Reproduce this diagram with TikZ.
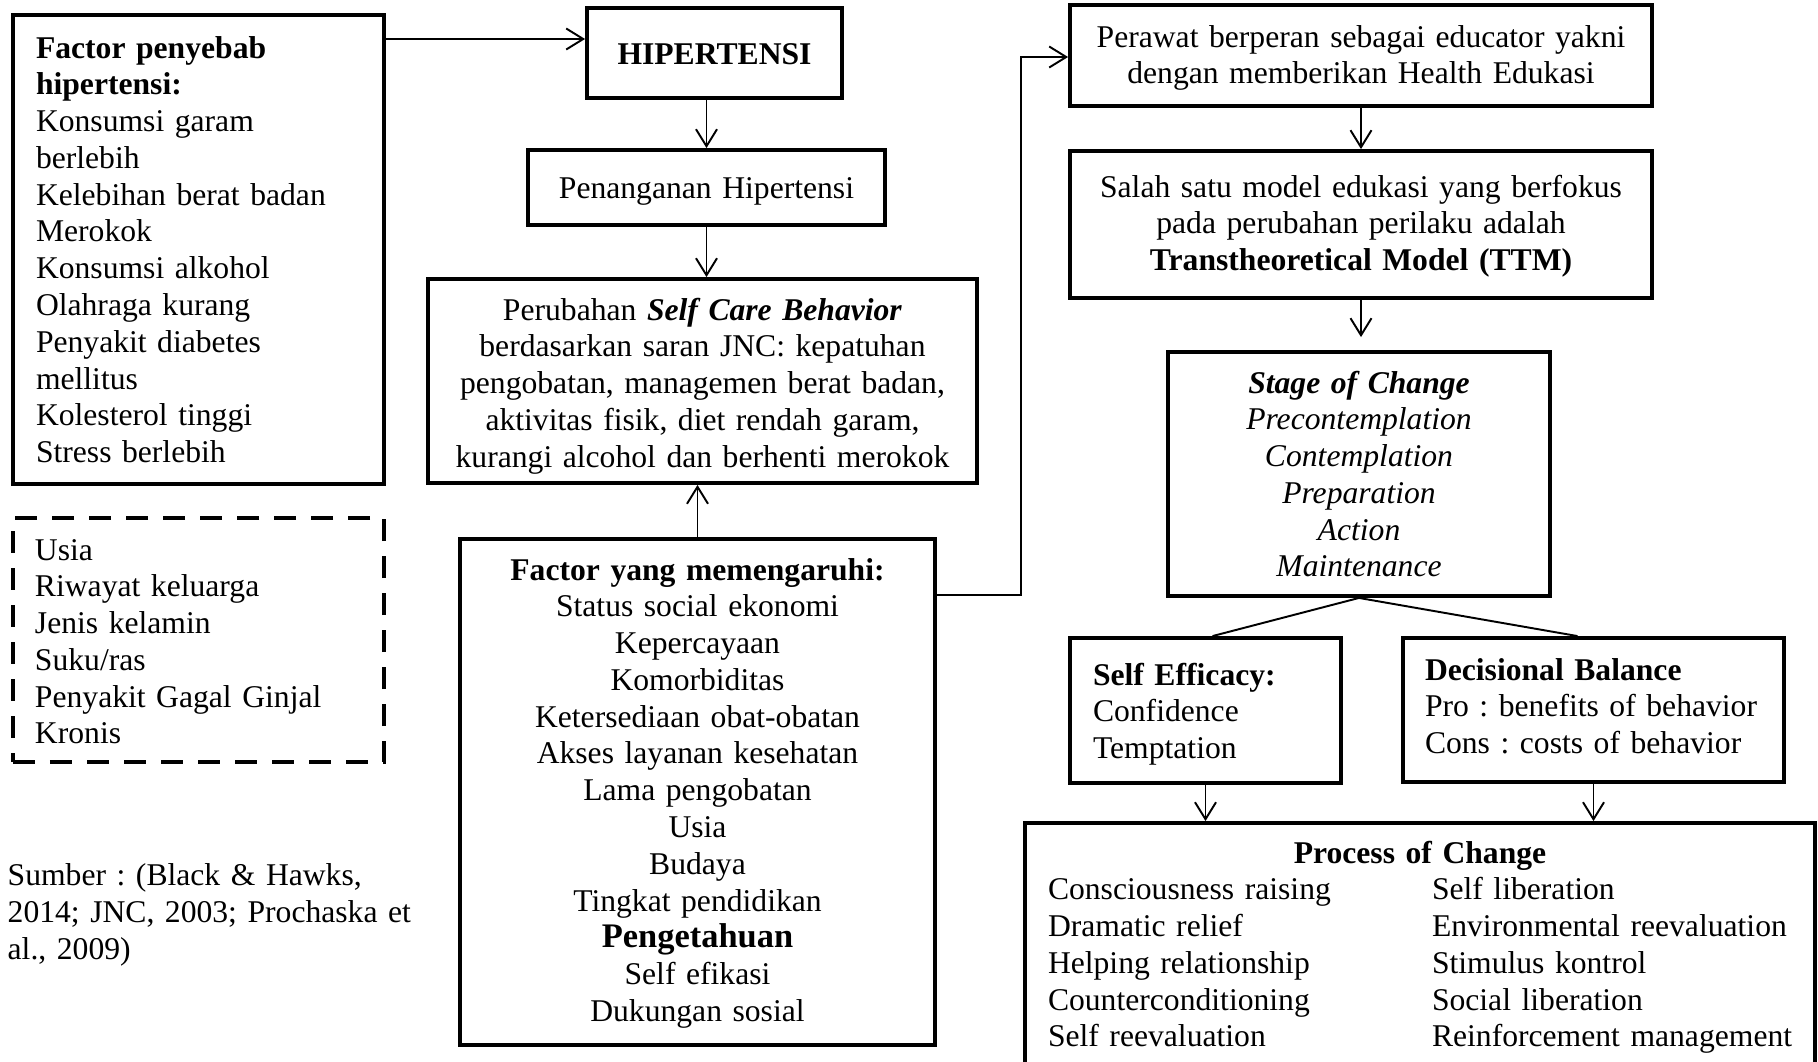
\documentclass[tikz,border=0pt]{standalone}
\usepackage{fontspec}
\setmainfont{Liberation Serif}
\usetikzlibrary{arrows.meta}
\newcommand{\diagfont}{\fontsize{9}{10.47}\selectfont\frenchspacing}

\begin{document}
\begin{tikzpicture}[x=1cm, y=-1cm,
  box/.style={draw, line width=1.1pt, inner ysep=0pt, inner xsep=0.2cm, align=center, font=\diagfont},
  leftbox/.style={box, align=left},
  arr/.style={line width=0.55pt, -{Straight Barb[length=1.7mm, width=2.1mm, line width=0.55pt]}},
  link/.style={line width=0.55pt}]
  \useasboundingbox (0,0) rectangle (18.18,10.62);
  % causes of hypertension (left top)
  \node[leftbox, inner xsep=0.23cm, text width=3.25cm, text height=0.43cm, text depth=4.26cm] (causes) at (1.985,2.495)
    {\textbf{Factor penyebab}\\\textbf{hipertensi:}\\Konsumsi garam\\berlebih\\Kelebihan berat badan\\Merokok\\Konsumsi alkohol\\Olahraga kurang\\Penyakit diabetes\\mellitus\\Kolesterol tinggi\\Stress berlebih};
  % fixed risk factors (dashed)
  \node[leftbox, dash pattern={on 2.2mm off 1.5mm}, inner xsep=0.22cm, text width=3.27cm, text height=0.42cm, text depth=2.02cm] (risk) at (1.985,6.40)
    {Usia\\Riwayat keluarga\\Jenis kelamin\\Suku/ras\\Penyakit Gagal Ginjal\\Kronis};
  % source note
  \node[anchor=north west, inner sep=0pt, align=left, text width=4.6cm, text height=0.30cm, font=\diagfont] (source) at (0.07,8.55)
    {Sumber : (Black \& Hawks,\\2014; JNC, 2003; Prochaska et\\al., 2009)};
  % middle column
  \node[box, text width=2.15cm, text height=0.56cm, text depth=0.34cm] (hiper) at (7.145,0.53) {\textbf{HIPERTENSI}};
  \node[box, text width=3.17cm, text height=0.48cm, text depth=0.27cm] (handle) at (7.065,1.875) {Penanganan Hipertensi};
  \node[box, text width=5.09cm, text height=0.41cm, text depth=1.63cm] (scb) at (7.025,3.81)
    {Perubahan \textbf{\textit{Self Care Behavior}}\\berdasarkan saran JNC: kepatuhan\\pengobatan, managemen berat badan,\\aktivitas fisik, diet rendah garam,\\kurangi alcohol dan berhenti merokok};
  \node[box, text width=4.35cm, text height=0.41cm, text depth=4.65cm] (factors) at (6.975,7.92)
    {\textbf{Factor yang memengaruhi:}\\Status social ekonomi\\Kepercayaan\\Komorbiditas\\Ketersediaan obat-obatan\\Akses layanan kesehatan\\Lama pengobatan\\Usia\\Budaya\\Tingkat pendidikan\\{\fontsize{9.8}{10.47}\selectfont\bfseries Pengetahuan}\\Self efikasi\\Dukungan sosial};
  % right column
  \node[box, text width=5.42cm, text height=0.42cm, text depth=0.59cm] (nurse) at (13.61,0.555)
    {Perawat berperan sebagai educator yakni\\dengan memberikan Health Edukasi};
  \node[box, text width=5.42cm, text height=0.46cm, text depth=1.01cm] (model) at (13.61,2.245)
    {Salah satu model edukasi yang berfokus\\pada perubahan perilaku adalah\\\textbf{Transtheoretical Model (TTM)}};
  \node[box, text width=3.42cm, text height=0.41cm, text depth=2.03cm] (stage) at (13.59,4.74)
    {\itshape\textbf{Stage of Change}\\Precontemplation\\Contemplation\\Preparation\\Action\\Maintenance};
  \node[leftbox, inner xsep=0.23cm, text width=2.25cm, text height=0.47cm, text depth=0.98cm] (effic) at (12.055,7.105)
    {\textbf{Self Efficacy:}\\Confidence\\Temptation};
  \node[leftbox, inner xsep=0.22cm, text width=3.37cm, text height=0.42cm, text depth=1.02cm] (decis) at (15.935,7.10)
    {\textbf{Decisional Balance}\\Pro : benefits of behavior\\Cons : costs of behavior};
  \node[box, inner xsep=0.23cm, text width=7.44cm, text height=0.40cm, text depth=2.12cm] (process) at (14.20,9.49)
    {\textbf{Process of Change}\\
     \begin{tabular}[t]{@{}p{3.84cm}@{}l@{}}
       Consciousness raising & Self liberation\\
       Dramatic relief & Environmental reevaluation\\
       Helping relationship & Stimulus kontrol\\
       Counterconditioning & Social liberation\\
       Self reevaluation & Reinforcement management
     \end{tabular}};
  % connectors
  \draw[arr] (causes.east |- 0,0.39) -- (hiper.west |- 0,0.39);
  \draw[arr] (hiper.south -| handle.north) -- (handle.north);
  \draw[arr] (handle.south) -- (handle.south |- scb.north);
  \draw[arr] (factors.north) -- (factors.north |- scb.south);
  \draw[arr] (factors.east |- 0,5.95) -- ++(0.84,0) |- (nurse.west |- 0,0.57);
  \draw[arr] (nurse) -- (model);
  \draw[arr, shorten >=0.13cm] (model.south) -- (model.south |- stage.north);
  \draw[link] (stage.south) -- ([xshift=0.07cm]effic.north);
  \draw[link] (stage.south) -- ([xshift=-0.16cm]decis.north);
  \draw[arr] (effic.south) -- (effic.south |- process.north);
  \draw[arr] (decis.south) -- (decis.south |- process.north);
\end{tikzpicture}
\end{document}
